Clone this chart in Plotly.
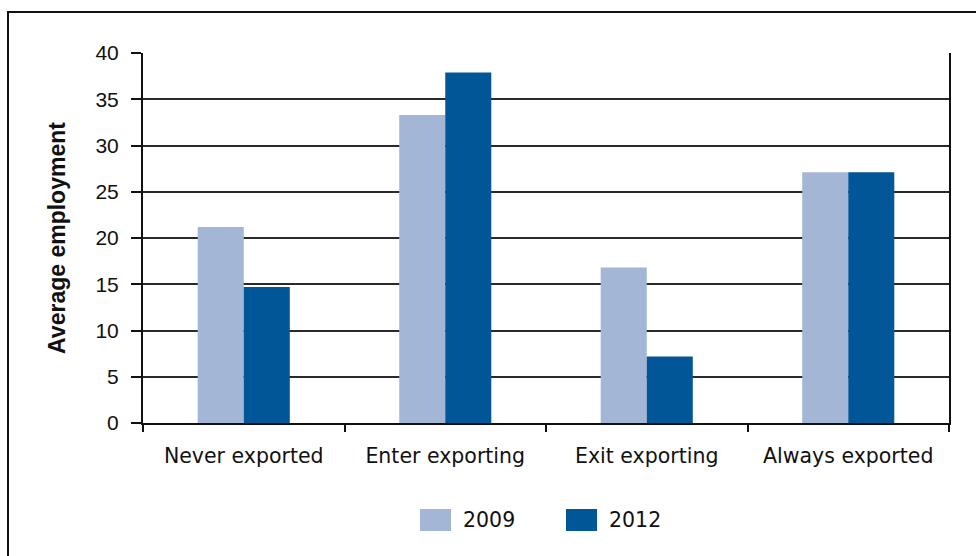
import plotly.graph_objects as go

# Average employment by exporting status
categories = ["Never exported", "Enter exporting", "Exit exporting", "Always exported"]
years = ["2009", "2012"]
values_2009 = [21.2, 33.3, 16.8, 27.1]
values_2012 = [14.7, 37.9, 7.2, 27.1]
y_ticks = [0, 5, 10, 15, 20, 25, 30, 35, 40]

colors = {"2009": "#A4B6D6", "2012": "#005696"}

W, H = 976, 556
ML, MR, MT, MB = 143, 27, 53, 133
PW, PH = W - ML - MR, H - MT - MB


def px_x(x):
    return (x - ML) / PW


def px_y(y):
    return (H - MB - y) / PH


fig = go.Figure()
for name, vals in zip(years, [values_2009, values_2012]):
    fig.add_trace(go.Bar(
        x=categories, y=vals, name=name,
        marker=dict(color=colors[name], line=dict(width=0)),
        showlegend=False,
    ))

tick_font = dict(family="Liberation Sans, Arial, sans-serif", size=21, color="#111111")
cat_font = dict(family="DejaVu Sans, sans-serif", size=20.5, color="#111111")

fig.update_layout(
    width=W, height=H,
    margin=dict(l=ML, r=MR, t=MT, b=MB, pad=0),
    paper_bgcolor="white", plot_bgcolor="white",
    barmode="group", bargap=0.543, bargroupgap=0,
    xaxis=dict(
        type="category", tickson="boundaries", ticks="outside", ticklen=7,
        tickwidth=1.5, tickcolor="#111111",
        showline=True, linecolor="#111111", linewidth=2,
        showgrid=False, tickfont=cat_font, ticklabelstandoff=13,
    ),
    yaxis=dict(
        range=[0, 40], tickvals=y_ticks, ticks="outside", ticklen=10,
        tickwidth=1.5, tickcolor="#111111",
        showline=True, linecolor="#111111", linewidth=2, mirror=True,
        showgrid=True, gridcolor="#2a2a2a", gridwidth=1.8,
        zeroline=False, tickfont=tick_font, ticklabelstandoff=8,
        title=dict(text="<b>Average employment</b>",
                   font=dict(family="Liberation Sans, Arial, sans-serif", size=23, color="#111111"),
                   standoff=23),
    ),
)

# Outer frame of the chart
fig.add_shape(type="rect", xref="paper", yref="paper",
              x0=px_x(8), x1=px_x(W + 20), y0=px_y(H + 20), y1=px_y(12),
              line=dict(color="#111111", width=2), fillcolor="rgba(0,0,0,0)", layer="below")

# Legend swatches and labels
legend_x = {"2009": 420, "2012": 566}
for name in years:
    x0 = legend_x[name]
    fig.add_shape(type="rect", xref="paper", yref="paper",
                  x0=px_x(x0), x1=px_x(x0 + 31), y0=px_y(531), y1=px_y(509),
                  line=dict(width=0), fillcolor=colors[name])
    fig.add_annotation(xref="paper", yref="paper", x=px_x(x0 + 41), y=px_y(520),
                       text=name, showarrow=False, xanchor="left", yanchor="middle",
                       font=cat_font)

fig.write_html("out.html")
